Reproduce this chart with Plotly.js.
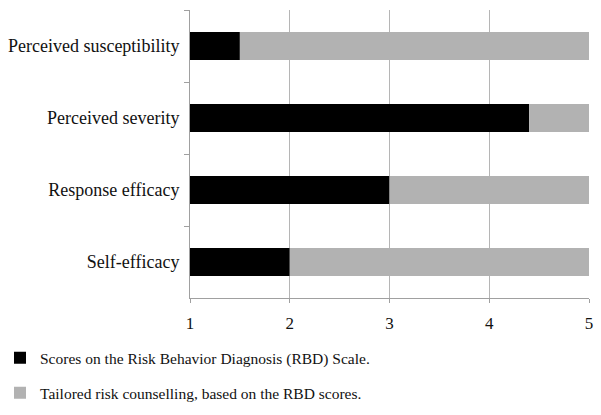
<!DOCTYPE html>
<html>
<head>
<meta charset="utf-8">
<script src="https://cdn.plot.ly/plotly-3.0.1.min.js"></script>
<style>html,body{margin:0;padding:0;background:#fff;}#chart{width:601px;height:415px;}</style>
</head>
<body>
<div id="chart"></div>
<script>
var categories = ["Perceived susceptibility", "Perceived severity", "Response efficacy", "Self-efficacy"];
var rbdScores = [1.5, 4.4, 3.0, 2.0];
var scaleMin = 1;
var scaleMax = 5;
var xTicks = [1, 2, 3, 4, 5];
var seriesNames = ["Scores on the Risk Behavior Diagnosis (RBD) Scale.", "Tailored risk counselling, based on the RBD scores."];

var serif = "Liberation Serif, Times New Roman, serif";

var black = {
  type: "bar", orientation: "h", name: seriesNames[0],
  y: categories,
  base: rbdScores.map(function(){return scaleMin;}),
  x: rbdScores.map(function(v){return v - scaleMin;}),
  marker: {color: "#000000"}, width: 0.39, legendgroup: "a"
};
var gray = {
  type: "bar", orientation: "h", name: seriesNames[1],
  y: categories,
  base: rbdScores,
  x: rbdScores.map(function(v){return scaleMax - v;}),
  marker: {color: "#b2b2b2"}, width: 0.39, legendgroup: "b"
};

var layout = {
  width: 601, height: 415,
  margin: {l: 190, r: 12, t: 10, b: 117, autoexpand: false},
  paper_bgcolor: "#fff", plot_bgcolor: "#fff",
  barmode: "overlay",
  font: {family: serif, size: 16, color: "#111"},
  showlegend: true,
  legend: {
    xref: "container", yref: "container", x: 0, y: 0.178, xanchor: "left", yanchor: "top",
    font: {family: serif, size: 15.5, color: "#111"},
    traceorder: "grouped", tracegroupgap: 12, itemwidth: 30
  },
  xaxis: {
    range: [scaleMin, scaleMax], tickvals: xTicks, ticktext: xTicks.map(String),
    tickfont: {family: serif, size: 17, color: "#111"},
    showgrid: true, gridcolor: "#b5b5b5", gridwidth: 1,
    showline: true, linecolor: "#a0a0a0", linewidth: 1,
    ticks: "outside", ticklen: 4, tickcolor: "#a0a0a0",
    zeroline: false, fixedrange: true, ticklabelstandoff: 6, automargin: false
  },
  yaxis: {
    autorange: "reversed", type: "category",
    tickfont: {family: serif, size: 18, color: "#111"},
    showgrid: false, showline: true, linecolor: "#a0a0a0", linewidth: 1,
    ticks: "outside", ticklen: 5, tickcolor: "#a0a0a0", tickson: "boundaries",
    ticklabelstandoff: 6, automargin: false
  }
};

Plotly.newPlot("chart", [black, gray], layout, {displayModeBar: false, staticPlot: true});
</script>
</body>
</html>
